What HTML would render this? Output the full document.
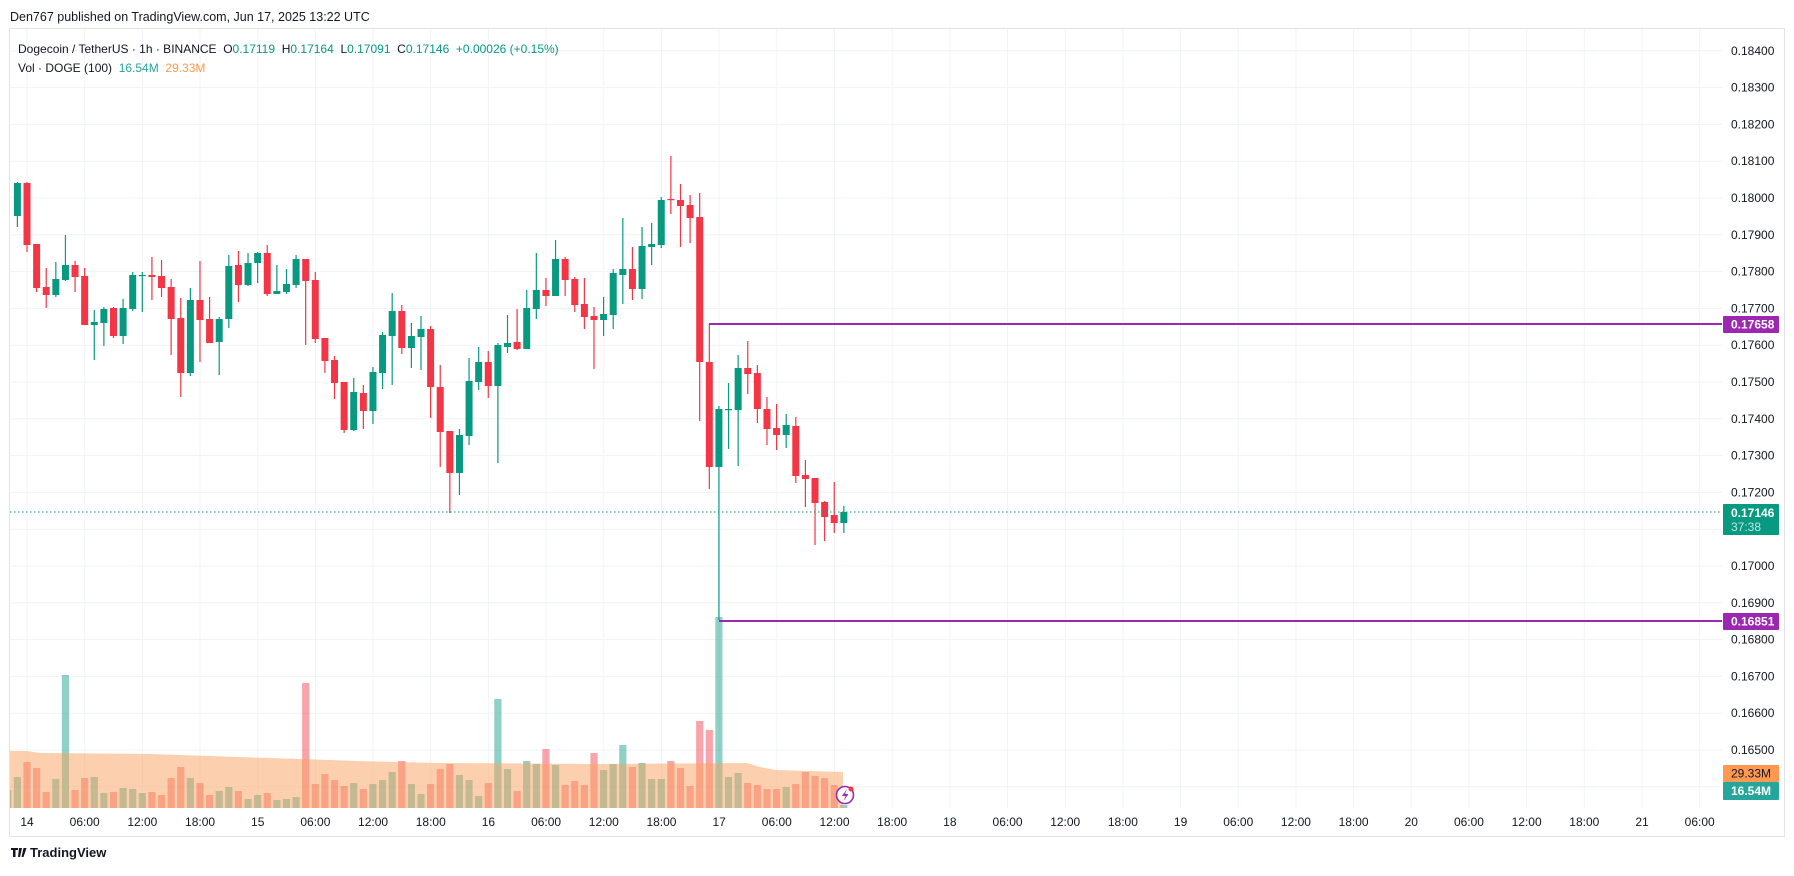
<!DOCTYPE html>
<html><head><meta charset="utf-8">
<style>
html,body{margin:0;padding:0;background:#fff;}
body{width:1794px;height:871px;overflow:hidden;font-family:"Liberation Sans",sans-serif;}
svg text{font-family:"Liberation Sans",sans-serif;}
</style></head>
<body>
<svg id="c" width="1794" height="871" xmlns="http://www.w3.org/2000/svg">
<rect x="0" y="0" width="1794" height="871" fill="#fff"/>
<text x="10" y="21" font-size="12.5" fill="#131722">Den767 published on TradingView.com, Jun 17, 2025 13:22 UTC</text>
<rect x="9.5" y="28.5" width="1775" height="808" fill="#fff" stroke="#e0e3eb"/>
<g id="grid"></g>
<g id="vol"></g>
<g id="cand"></g>
<g id="ov"></g>
<text x="18" y="53" font-size="12" fill="#131722" xml:space="preserve">Dogecoin / TetherUS · 1h · BINANCE  <tspan>O</tspan><tspan fill="#089981">0.17119</tspan>  H<tspan fill="#089981">0.17164</tspan>  L<tspan fill="#089981">0.17091</tspan>  C<tspan fill="#089981">0.17146</tspan>  <tspan fill="#089981">+0.00026 (+0.15%)</tspan></text>
<text x="18" y="72" font-size="12" fill="#131722" xml:space="preserve">Vol · DOGE (100)  <tspan fill="#26a69a">16.54M</tspan>  <tspan fill="#ff9850">29.33M</tspan></text>
<g transform="translate(11,846)">
<path d="M0 2h7v2h-2.5v7h-2.5v-7h-2z M8 2h3l-2 9h-2z M12.5 2h3l-3 9h-2z" fill="#131722"/>
<text x="19" y="11" font-size="13" font-weight="bold" fill="#131722">TradingView</text>
</g>
</svg>
<script>
const NS="http://www.w3.org/2000/svg";
function el(p,t,a,txt){const e=document.createElementNS(NS,t);for(const k in a)e.setAttribute(k,a[k]);if(txt!==undefined)e.textContent=txt;p.appendChild(e);return e;}
const grid=document.getElementById('grid'),vol=document.getElementById('vol'),cand=document.getElementById('cand'),ov=document.getElementById('ov'),svg=document.getElementById('c');
const py=p=>198+(0.18-p)*36800;
for(let i=0;i<=20;i++){const p=0.164+i*0.001;const y=py(p);if(y<30||y>806)continue;
 el(grid,'line',{x1:10,x2:1722,y1:y,y2:y,stroke:'#f0f3fa','stroke-width':1});
 if(p>=0.16499 && Math.abs(p-0.171)>0.0001) el(svg,'text',{x:1731,y:y+4,'font-size':12,fill:'#131722'},p.toFixed(5));}
const labs=['14','06:00','12:00','18:00','15','06:00','12:00','18:00','16','06:00','12:00','18:00','17','06:00','12:00','18:00','18','06:00','12:00','18:00','19','06:00','12:00','18:00','20','06:00','12:00','18:00','21','06:00'];
const sp=(1642-27)/28;
labs.forEach((l,i)=>{const x=27+i*sp;el(grid,'line',{x1:x,x2:x,y1:29,y2:808,stroke:'#f0f3fa','stroke-width':1});
 el(svg,'text',{x:x,y:826,'font-size':12,fill:'#131722','text-anchor':'middle'},l);});
const G='#089981',R='#f23645';
const d=[
['g',215,247,215,247],['g',183,216,182,227],['r',183,245,182,252],['r',244,288,244,292],['r',287,295,268,308],['g',279,295,262,297],['g',265,280,235,281],['r',265,277,261,292],['r',276,325,268,325],['g',322,325,310,360],
['g',309,323,307,346],['r',308,336,307,338],['g',308,336,299,344],['g',275,309,272,311],['g',275,276,272,312],['r',275,277,257,300],['r',276,288,260,297],['r',287,319,279,355],['r',318,373,298,397],['g',300,373,288,376],
['r',300,320,261,362],['r',319,343,297,343],['g',319,342,317,375],['g',266,319,255,328],['r',265,285,251,302],['g',263,285,253,286],['g',253,263,252,283],['r',253,294,245,296],['g',291,294,265,294],['g',284,292,269,294],
['g',259,285,255,288],['r',259,281,259,345],['r',280,339,272,343],['r',338,361,338,373],['r',360,383,356,399],['r',382,430,382,433],['g',392,430,378,431],['r',393,411,385,429],['g',372,411,367,424],['g',335,373,332,389],
['g',311,336,293,385],['r',311,348,305,354],['g',336,348,323,368],['g',329,337,316,370],['r',329,387,326,418],['r',387,432,365,467],['r',431,473,431,513],['g',435,473,429,495],['g',381,436,358,445],['g',362,382,347,390],
['r',362,386,351,398],['g',345,386,343,463],['g',343,347,315,353],['r',342,349,309,350],['g',308,349,290,349],['g',290,309,253,319],['r',290,296,278,306],['g',259,296,240,296],['r',259,280,257,296],['r',279,305,277,312],
['r',304,317,278,329],['r',316,320,307,369],['g',314,320,297,336],['g',273,315,269,329],['g',269,275,218,304],['r',269,289,247,300],['g',246,289,227,299],['g',244,247,223,265],['g',200,245,197,248],['r',199,200,156,214],
['r',200,206,184,247],['r',205,218,195,243],['r',217,362,193,421],['r',362,467,324,489],['g',409,467,406,620],['g',409,410,383,449],['g',368,410,355,466],['r',368,374,341,394],['r',373,409,365,423],['r',409,429,397,445],
['r',428,435,404,450],['g',425,435,414,448],['r',426,476,417,483],['r',475,479,460,507],['r',478,503,478,545],['r',502,517,501,541],['r',515,523,482,533],['g',512,523,506,533]];
const vt=[790,777,762,768,792,779,675,790,778,777,793,792,788,789,793,792,795,778,767,778,783,795,791,787,791,799,795,793,800,799,797,683,784,774,780,786,783,789,784,780,772,761,784,794,784,769,764,775,780,796,783,699,769,791,761,764,749,765,785,781,785,753,770,764,745,767,763,779,779,761,768,786,721,730,617,777,773,783,785,789,789,787,784,772,776,778,785,805];
const X=n=>27+(n-2)*9.61;
d.forEach((c,i)=>{const x=X(i);let x0=Math.max(10,x-3.6);const w=x+3.6-x0;
 el(vol,'rect',{x:x0,y:vt[i],width:w,height:808-vt[i],fill:c[0]=='g'?'rgba(8,153,129,0.45)':'rgba(242,54,69,0.45)'});});
const ma=[[10,751],[27,751],[40,753],[150,754],[300,759],[356,761],[440,763],[600,764],[747,763],[760,767],[775,770],[843,772],[843,808],[10,808]];
el(vol,'polygon',{points:ma.map(p=>p.join(',')).join(' '),fill:'rgba(250,161,93,0.5)'});
d.forEach((c,i)=>{const x=X(i);const col=c[0]=='g'?G:R;
 if(x<9)return;
 el(cand,'line',{x1:x,x2:x,y1:c[3],y2:c[4],stroke:col,'stroke-width':1.2});
 const x0=Math.max(10,x-3.5);
 el(cand,'rect',{x:x0,y:c[1],width:x+3.5-x0,height:Math.max(1.2,c[2]-c[1]),fill:col});});
el(ov,'line',{x1:10,x2:1722,y1:512,y2:512,stroke:G,'stroke-width':1,'stroke-dasharray':'1.5,2.5'});
el(ov,'line',{x1:709,x2:1722,y1:324,y2:324,stroke:'#9c27b0','stroke-width':2});
el(ov,'line',{x1:719,x2:1722,y1:621,y2:621,stroke:'#9c27b0','stroke-width':2});
function box(y1,y2,fill,t,t2,tc){el(ov,'rect',{x:1723,y:y1,width:56,height:y2-y1,rx:1,fill:fill});
 if(t2){el(ov,'text',{x:1731,y:y1+13,'font-size':12,'font-weight':'bold',fill:'#fff'},t);el(ov,'text',{x:1731,y:y1+27,'font-size':12,fill:'rgba(255,255,255,0.75)'},t2);}
 else el(ov,'text',{x:1731,y:(y1+y2)/2+4,'font-size':12,'font-weight':tc?'normal':'bold',fill:tc||'#fff'},t);}
box(504,535,G,'0.17146','37:38');
box(316,333,'#9c27b0','0.17658');
box(613,630,'#9c27b0','0.16851');
box(765,782,'#ff9850','29.33M','', '#131722');
box(782,800,'#26a69a','16.54M');
el(ov,'circle',{cx:845,cy:795,r:8.5,fill:'#fff',stroke:'#9c27b0','stroke-width':1.6});
el(ov,'path',{d:'M847 789 L842 796 L845.5 796 L843.5 801 L848.5 794 L845 794 Z',fill:'#9c27b0'});
el(ov,'circle',{cx:851,cy:789,r:2.5,fill:'#f23645'});
</script>
</body></html>
